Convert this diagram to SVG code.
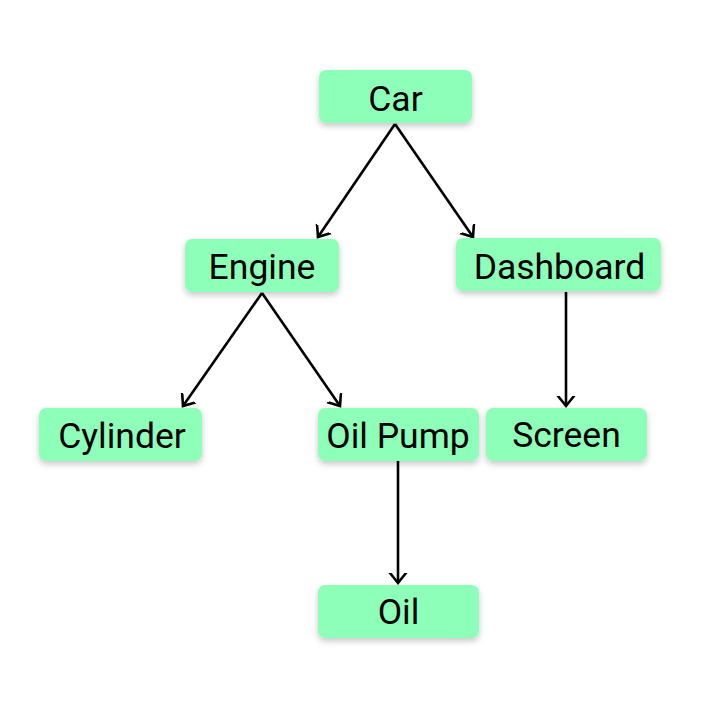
<svg xmlns="http://www.w3.org/2000/svg" width="716" height="708" viewBox="0 0 716 708">
<style>
.box{fill:#8effb9;filter:url(#sh)}
.lbl{font-family:Roboto,"Liberation Sans",sans-serif;font-size:35.5px;fill:#000;text-anchor:middle}
.edge{stroke:#000;stroke-width:2.6;fill:none;marker-end:url(#ah)}
</style>
<defs>
<filter id="sh" x="-20%" y="-30%" width="140%" height="170%">
<feDropShadow dx="0" dy="3" stdDeviation="3" flood-color="#000" flood-opacity="0.22"/>
</filter>
<marker id="ah" markerUnits="userSpaceOnUse" markerWidth="20" markerHeight="20" refX="10" refY="10" viewBox="0 0 20 20" orient="auto">
<path d="M0,2 L10,10 L0,18" fill="none" stroke="#000" stroke-width="2.6" stroke-linecap="round" stroke-linejoin="miter"/>
</marker>
</defs>
<rect width="716" height="708" fill="#fff"/>
<g id="connectors">
<line class="edge" x1="395" y1="124" x2="318" y2="237"/>
<line class="edge" x1="395" y1="124" x2="473" y2="237"/>
<line class="edge" x1="262" y1="293" x2="183" y2="406"/>
<line class="edge" x1="262" y1="293" x2="340" y2="406"/>
<line class="edge" x1="566" y1="292" x2="566" y2="406"/>
<line class="edge" x1="398" y1="461" x2="398" y2="583"/>
</g>
<g id="car"><rect class="box" x="319" y="70" width="153" height="53" rx="7"/><text class="lbl" x="395.5" y="111">Car</text></g>
<g id="engine"><rect class="box" x="185" y="239" width="154" height="53" rx="7"/><text class="lbl" x="262" y="279">Engine</text></g>
<g id="dashboard"><rect class="box" x="456" y="238" width="205" height="53" rx="7"/><text class="lbl" x="559.5" y="279">Dashboard</text></g>
<g id="cylinder"><rect class="box" x="39" y="408" width="163" height="53" rx="7"/><text class="lbl" x="122" y="447.5">Cylinder</text></g>
<g id="oilpump"><rect class="box" x="318" y="408" width="161" height="53" rx="7"/><text class="lbl" x="398" y="447.5">Oil Pump</text></g>
<g id="screen"><rect class="box" x="486" y="408" width="161" height="53" rx="7"/><text class="lbl" x="566.5" y="447">Screen</text></g>
<g id="oil"><rect class="box" x="318" y="585" width="161" height="53" rx="7"/><text class="lbl" x="398.5" y="623.5">Oil</text></g>
</svg>
